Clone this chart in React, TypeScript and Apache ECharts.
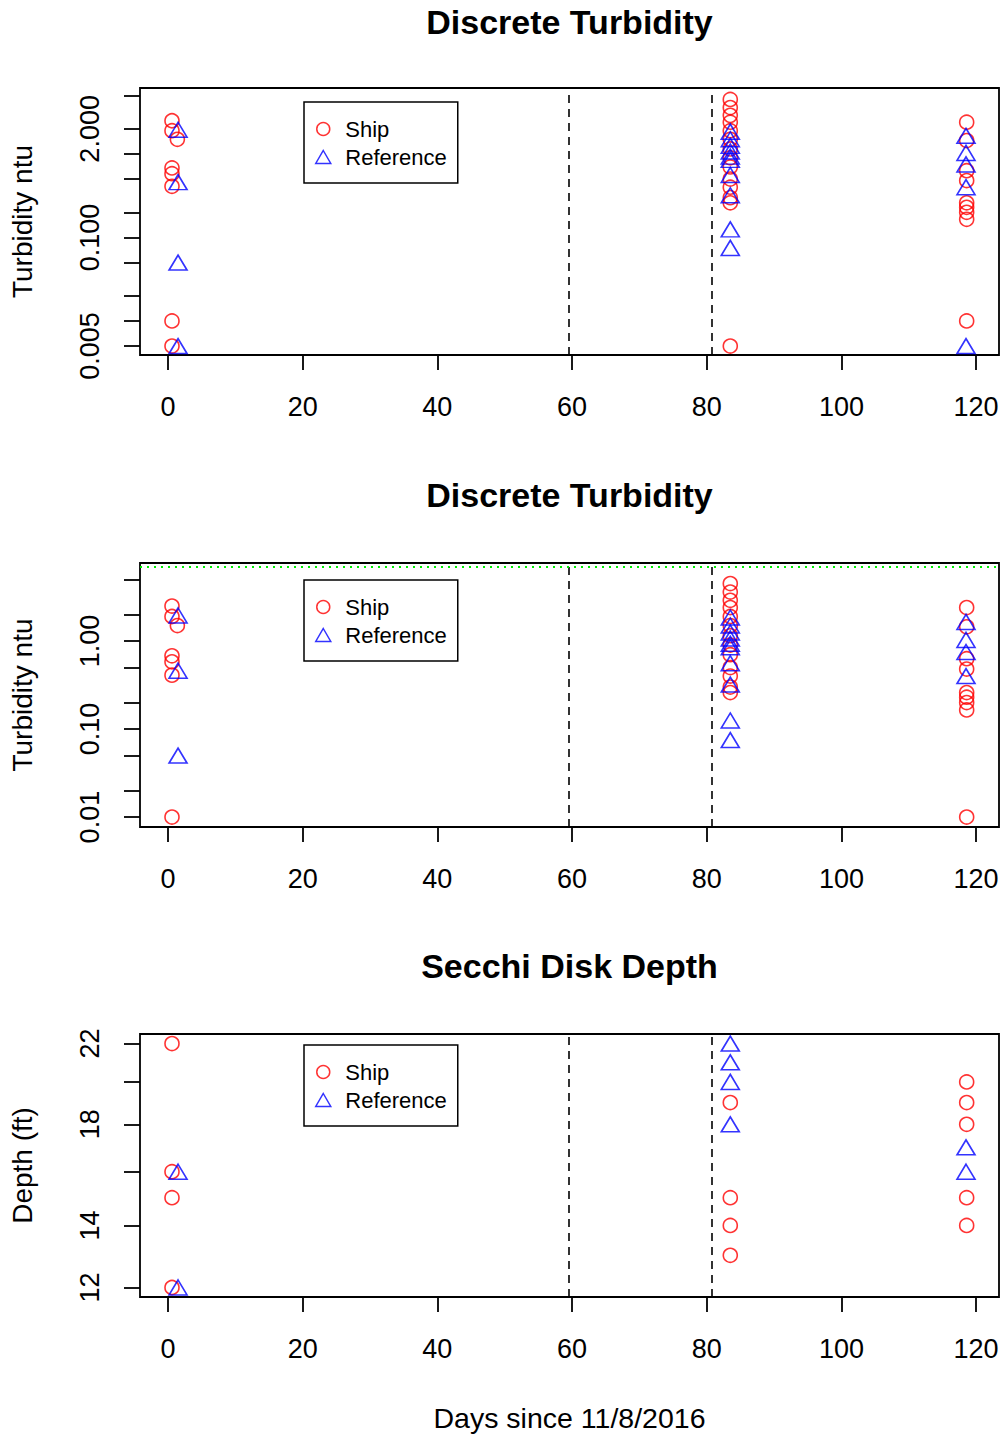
import React, { useEffect, useRef } from "react";
import * as echarts from "echarts";

// ---- data ----
const shipTurbDay = [
  0.6, 0.6, 0.6, 0.6, 0.6, 0.6, 0.6, 1.4,
  83.5, 83.5, 83.5, 83.5, 83.5, 83.5, 83.5, 83.5, 83.5, 83.5, 83.5, 83.5, 83.5, 83.5,
  118.6, 118.6, 118.6, 118.6, 118.6, 118.6, 118.6, 118.6, 118.6,
];
const shipTurbNtu = [
  2.5, 1.9, 0.68, 0.58, 0.41, 0.01, 0.005, 1.5,
  4.5, 3.6, 2.9, 2.4, 1.9, 1.5, 1.15, 0.9, 0.7, 0.5, 0.4, 0.3, 0.26, 0.005,
  2.4, 1.45, 0.63, 0.48, 0.26, 0.23, 0.2, 0.165, 0.01,
];
const refTurbDay = [
  1.5, 1.5, 1.5, 1.5,
  83.5, 83.5, 83.5, 83.5, 83.5, 83.5, 83.5, 83.5, 83.5, 83.5,
  118.5, 118.5, 118.5, 118.5, 118.5,
];
const refTurbNtu = [
  1.95, 0.46, 0.05, 0.005,
  1.85, 1.5, 1.25, 1.07, 0.93, 0.85, 0.56, 0.32, 0.125, 0.075,
  1.65, 1.03, 0.75, 0.4, 0.005,
];
const shipDepthDay = [0.6, 0.6, 0.6, 0.6, 83.5, 83.5, 83.5, 83.5, 118.6, 118.6, 118.6, 118.6, 118.6];
const shipDepthFt = [22, 16, 15, 12, 19, 15, 14, 13, 20, 19, 18, 15, 14];
const refDepthDay = [1.5, 1.5, 83.5, 83.5, 83.5, 83.5, 118.5, 118.5];
const refDepthFt = [16, 12, 22, 21, 20, 18, 17, 16];

const eventDays = [59.5, 80.8];
const turbidityGuide = 7;
const detectionFloor = 0.005;

const dayTicks = [0, 20, 40, 60, 80, 100, 120];
const turbTicksA = [0.005, 0.01, 0.02, 0.05, 0.1, 0.2, 0.5, 1, 2, 5];
const turbLabelsA = [0.005, 0.1, 2];
const turbTicksB = [0.01, 0.02, 0.05, 0.1, 0.2, 0.5, 1, 2, 5];
const turbLabelsB = [0.01, 0.1, 1];
const depthTicks = [12, 14, 16, 18, 20, 22];
const depthLabels = [12, 14, 18, 22];

const FONT = "'Liberation Sans', Arial, Helvetica, sans-serif";
const TRIANGLE = "path://M0,-2L1.732,1L-1.732,1Z";

const zip = (xs: number[], ys: number[]) => xs.map((x, i) => [x, ys[i]]);

function xAxisCfg(gridIndex: number, withName: boolean) {
  return {
    type: "value",
    gridIndex,
    min: -4.15,
    max: 123.4,
    axisLine: { show: false, onZero: false },
    axisTick: { show: true, length: 15, lineStyle: { color: "#000", width: 1.8 }, customValues: dayTicks },
    axisLabel: { show: true, margin: 38, fontSize: 27, color: "#000", fontFamily: FONT, customValues: dayTicks },
    splitLine: { show: false },
    name: withName ? "Days since 11/8/2016" : "",
    nameLocation: "middle",
    nameGap: 106,
    nameTextStyle: { fontSize: 28.5, color: "#000", fontFamily: FONT },
  };
}

function yAxisCfg(
  gridIndex: number,
  min: number,
  max: number,
  ticks: number[],
  labels: number[],
  fmt: (v: number) => string,
  name: string
) {
  return {
    type: "log",
    logBase: 10,
    gridIndex,
    min,
    max,
    axisLine: { show: false, onZero: false },
    axisTick: { show: true, length: 16, lineStyle: { color: "#000", width: 1.8 }, customValues: ticks },
    axisLabel: {
      show: true,
      rotate: 90,
      margin: 37,
      fontSize: 27,
      color: "#000",
      fontFamily: FONT,
      customValues: labels,
      formatter: (v: number) => fmt(v),
    },
    splitLine: { show: false },
    minorTick: { show: false },
    name,
    nameLocation: "middle",
    nameGap: 104,
    nameRotate: 90,
    nameTextStyle: { fontSize: 28, color: "#000", fontFamily: FONT },
  };
}

const shipStyle = { color: "rgba(0,0,0,0)", borderColor: "#FF0000", borderWidth: 1.6 };
const refStyle = { color: "rgba(0,0,0,0)", borderColor: "#0000FF", borderWidth: 1.6 };

function eventLines(extra: any[] = []) {
  return {
    silent: true,
    symbol: ["none", "none"],
    label: { show: false },
    lineStyle: { color: "#000", type: [8, 6], width: 1.6 },
    data: [...eventDays.map((d) => ({ xAxis: d })), ...extra],
  };
}

export default function App() {
  const ref = useRef<HTMLDivElement>(null);
  useEffect(() => {
    if (!ref.current) return;
    const chart = echarts.init(ref.current, null, { renderer: "svg" });
    const gridTops = [88, 563, 1034];
    const gridBottoms = [355, 827, 1297];
    const legendTops = [102, 580, 1045];
    const titleTops = [5, 478, 949];
    const titles = ["Discrete Turbidity", "Discrete Turbidity", "Secchi Disk Depth"];

    const shipA = zip(shipTurbDay, shipTurbNtu);
    const refA = zip(refTurbDay, refTurbNtu);
    const shipB = shipA.filter((p) => p[1] > detectionFloor);
    const refB = refA.filter((p) => p[1] > detectionFloor);

    const scatterBase = {
      type: "scatter",
      silent: true,
      emphasis: { disabled: true },
    };
    const shipSeries = { ...scatterBase, name: "Ship", symbol: "circle", symbolSize: 14, itemStyle: shipStyle };
    const refSeries = { ...scatterBase, name: "Reference", symbol: TRIANGLE, symbolSize: [18, 15], itemStyle: refStyle };

    const option: any = {
      animation: false,
      backgroundColor: "#fff",
      textStyle: { fontFamily: FONT },
      title: titles.map((t, i) => ({
        text: t,
        left: 569.5,
        top: titleTops[i],
        textAlign: "center",
        padding: 0,
        textStyle: { fontSize: 34, fontWeight: "bold", color: "#000", fontFamily: FONT },
      })),
      grid: gridTops.map((t, i) => ({
        left: 140,
        right: 6,
        top: t,
        height: gridBottoms[i] - t,
        show: true,
        borderColor: "#000",
        borderWidth: 1.8,
        backgroundColor: "rgba(0,0,0,0)",
      })),
      legend: legendTops.map((t) => ({
        data: ["Ship", "Reference"],
        orient: "vertical",
        left: 304,
        top: t,
        padding: [16, 11, 15, 11],
        itemGap: 6,
        itemWidth: 34,
        itemHeight: 13,
        symbolKeepAspect: true,
        borderColor: "#000",
        borderWidth: 1.5,
        backgroundColor: "#fff",
        selectedMode: false,
        itemStyle: { borderWidth: 1.5 },
        textStyle: { fontSize: 22, color: "#000", fontFamily: FONT, lineHeight: 22 },
      })),
      xAxis: [xAxisCfg(0, false), xAxisCfg(1, false), xAxisCfg(2, true)],
      yAxis: [
        yAxisCfg(0, 0.00391, 6.17, turbTicksA, turbLabelsA, (v) => Number(v).toFixed(3), "Turbidity ntu"),
        yAxisCfg(1, 0.00772, 7.7, turbTicksB, turbLabelsB, (v) => Number(v).toFixed(2), "Turbidity ntu"),
        yAxisCfg(2, 11.72, 22.53, depthTicks, depthLabels, (v) => String(Math.round(v)), "Depth (ft)"),
      ],
      series: [
        { ...shipSeries, xAxisIndex: 0, yAxisIndex: 0, data: shipA, markLine: eventLines() },
        { ...refSeries, xAxisIndex: 0, yAxisIndex: 0, data: refA },
        {
          ...shipSeries, xAxisIndex: 1, yAxisIndex: 1, data: shipB,
          markLine: eventLines([{ yAxis: turbidityGuide, lineStyle: { color: "#00EE00", type: [2, 5], width: 2 } }]),
        },
        { ...refSeries, xAxisIndex: 1, yAxisIndex: 1, data: refB },
        { ...shipSeries, xAxisIndex: 2, yAxisIndex: 2, data: zip(shipDepthDay, shipDepthFt), markLine: eventLines() },
        { ...refSeries, xAxisIndex: 2, yAxisIndex: 2, data: zip(refDepthDay, refDepthFt) },
      ],
    };
    chart.setOption(option);
    return () => chart.dispose();
  }, []);
  return (
    <div
      ref={ref}
      style={{ position: "absolute", left: 0, top: 0, width: 1005, height: 1435, background: "#fff" }}
    />
  );
}
